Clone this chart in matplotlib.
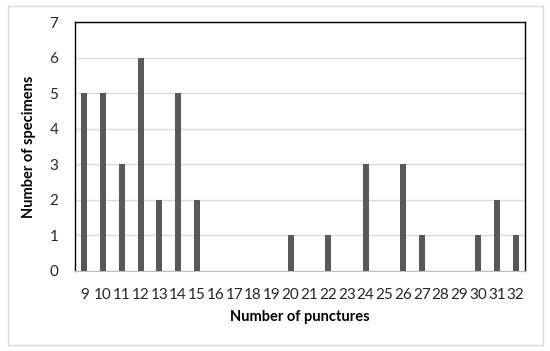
import matplotlib.pyplot as plt
from matplotlib.patches import Rectangle

punctures = [str(n) for n in range(9, 33)]
specimens = [5, 5, 3, 6, 2, 5, 2, 0, 0, 0, 0, 1, 0, 1, 0, 3, 0, 3, 1, 0, 0, 1, 2, 1]
y_ticks = [0, 1, 2, 3, 4, 5, 6, 7]

plt.rcParams['font.family'] = ['Lato', 'DejaVu Sans']

fig = plt.figure(figsize=(5.5, 3.51), dpi=100)
ax = fig.add_axes([75 / 550, 1 - 271 / 351, 450 / 550, 249 / 351])

# outer chart border
fig.patches.append(Rectangle((8 / 550, 6 / 351), 535 / 550, 339 / 351,
                             transform=fig.transFigure, fill=False,
                             edgecolor="#d9d9d9", linewidth=1))

x = range(len(punctures))
ax.bar(x, specimens, width=0.32, color="#595959", zorder=3)

ax.set_xlim(-0.5, len(punctures) - 0.5)
ax.set_ylim(0, 7)
ax.set_yticks(y_ticks)
ax.set_xticks(list(x))
ax.set_xticklabels(punctures)
ax.yaxis.grid(True, color="#d9d9d9", linewidth=1, zorder=0)
ax.tick_params(axis="both", length=0, labelsize=11, colors="#262626")
ax.tick_params(axis="x", pad=12)
ax.tick_params(axis="y", pad=12)

for side in ["top", "left", "right"]:
    ax.spines[side].set_color("black")
    ax.spines[side].set_linewidth(1)
ax.spines["bottom"].set_color("#bfbfbf")

ax.set_xlabel("Number of punctures", fontsize=10.5, fontweight="bold", labelpad=6)
ax.set_ylabel("Number of specimens", fontsize=10.5, fontweight="bold", labelpad=10)

fig.savefig("out.png", dpi=100)
